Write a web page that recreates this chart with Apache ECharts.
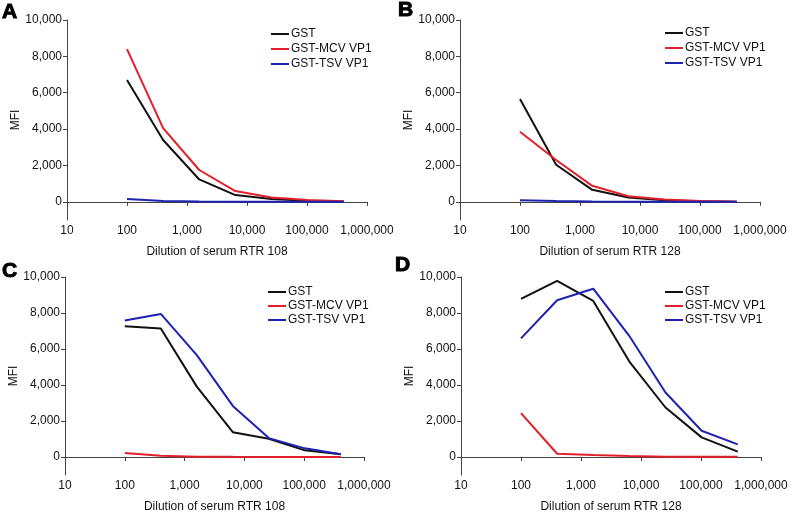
<!DOCTYPE html>
<html>
<head>
<meta charset="utf-8">
<script src="https://cdn.jsdelivr.net/npm/echarts@6/dist/echarts.min.js"></script>
<style>
  html, body { margin: 0; padding: 0; background: #fff; }
  #chart { width: 800px; height: 518px; }
</style>
</head>
<body>
<div id="chart"></div>
<script>
// serum dilutions (4-fold series)
const dilutions = [100, 400, 1600, 6400, 25600, 102400, 409600];
const seriesNames = ['GST', 'GST-MCV VP1', 'GST-TSV VP1'];
const yTicks = [0, 2000, 4000, 6000, 8000, 10000];
const xTitles = ['Dilution of serum RTR 108', 'Dilution of serum RTR 128', 'Dilution of serum RTR 108', 'Dilution of serum RTR 128'];
const panelLetters = ['A', 'B', 'C', 'D'];

// panel A
const gstA = [6700, 3400, 1230, 370, 150, 60, 20];
const mcvA = [8400, 4050, 1750, 590, 240, 100, 30];
const tsvA = [150, 50, 20, 10, 5, 5, 5];
// panel B
const gstB = [5650, 2040, 660, 240, 90, 30, 10];
const mcvB = [3850, 2300, 880, 310, 130, 40, 10];
const tsvB = [90, 40, 20, 10, 10, 5, 5];
// panel C
const gstC = [7270, 7140, 3910, 1380, 1010, 370, 150];
const mcvC = [220, 75, 20, 10, 5, 5, 5];
const tsvC = [7580, 7950, 5660, 2840, 1050, 480, 150];
// panel D
const gstD = [8780, 9780, 8670, 5300, 2750, 1090, 300];
const mcvD = [2440, 180, 110, 50, 20, 20, 10];
const tsvD = [6590, 8710, 9350, 6720, 3580, 1460, 700];

const panels = [
  [gstA, mcvA, tsvA],
  [gstB, mcvB, tsvB],
  [gstC, mcvC, tsvC],
  [gstD, mcvD, tsvD]
];
const colors = ['#111111', '#e3202a', '#1f22b0'];

const font = 'Liberation Sans, Arial, sans-serif';
const fmt = v => Number(v).toLocaleString('en-US');

const grids = [
  { left: 67, top: 20, width: 300, height: 200 },
  { left: 460, top: 20, width: 300, height: 200 },
  { left: 65, top: 277, width: 299, height: 198 },
  { left: 461, top: 277, width: 300, height: 198 }
];
const legendPos = [
  { left: 271, top: 28, gap: 3 },
  { left: 665, top: 27, gap: 3 },
  { left: 268, top: 286, gap: 2 },
  { left: 665, top: 286, gap: 2 }
];
const letterPos = [
  { left: 2, top: 2 },
  { left: 398, top: 0 },
  { left: 2, top: 261 },
  { left: 395, top: 255 }
];

const chart = echarts.init(document.getElementById('chart'));

const xAxis = grids.map((g, i) => ({
  type: 'log',
  logBase: 10,
  gridIndex: i,
  min: 10,
  max: 1000000,
  name: xTitles[i],
  nameLocation: 'middle',
  nameGap: 26,
  nameTextStyle: { color: '#111', fontSize: 12, fontFamily: font },
  axisLine: { lineStyle: { color: '#444', width: 1 } },
  axisTick: { show: true, length: 4, lineStyle: { color: '#444' } },
  minorTick: { show: false },
  splitLine: { show: false },
  axisLabel: { color: '#111', fontSize: 12, fontFamily: font, margin: 5, formatter: fmt }
}));

const yAxis = grids.map((g, i) => ({
  type: 'value',
  gridIndex: i,
  min: -1000,
  max: 10000,
  name: 'MFI',
  nameLocation: 'middle',
  nameGap: 44,
  nameTextStyle: { color: '#111', fontSize: 12, fontFamily: font },
  axisLine: { show: true, lineStyle: { color: '#444', width: 1 } },
  axisTick: { show: true, length: 4, customValues: yTicks, lineStyle: { color: '#444' } },
  splitLine: { show: false },
  axisLabel: { color: '#111', fontSize: 12, fontFamily: font, margin: 5, customValues: yTicks, formatter: fmt }
}));

const series = [];
panels.forEach((set, p) => {
  set.forEach((vals, k) => {
    series.push({
      name: seriesNames[k],
      type: 'line',
      xAxisIndex: p,
      yAxisIndex: p,
      symbol: 'none',
      color: colors[k],
      lineStyle: { width: 2, color: colors[k] },
      data: dilutions.map((d, j) => [d, vals[j]])
    });
  });
});

const legend = legendPos.map(pos => ({
  data: seriesNames.map(n => ({ name: n, icon: 'rect' })),
  orient: 'vertical',
  left: pos.left,
  top: pos.top,
  padding: 0,
  itemGap: pos.gap,
  itemWidth: 18,
  itemHeight: 2,
  selectedMode: false,
  textStyle: { color: '#111', fontSize: 12, fontFamily: font, padding: [0, 0, 0, -3] }
}));

const title = panelLetters.map((t, i) => ({
  text: t,
  left: letterPos[i].left,
  top: letterPos[i].top,
  padding: 0,
  textStyle: {
    fontSize: 21, fontWeight: 'bold', color: '#000', fontFamily: font,
    textBorderColor: '#000', textBorderWidth: 1
  }
}));

chart.setOption({
  animation: false,
  backgroundColor: '#fff',
  title: title,
  grid: grids,
  xAxis: xAxis,
  yAxis: yAxis,
  legend: legend,
  series: series
});
</script>
</body>
</html>
